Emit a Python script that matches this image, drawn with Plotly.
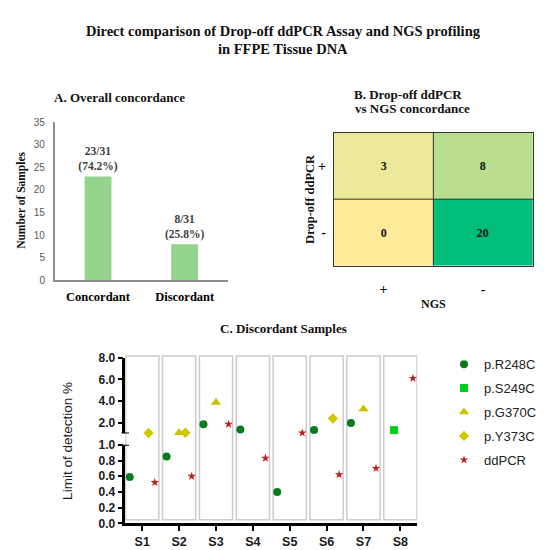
import plotly.graph_objects as go

# ---------------- data ----------------
# A. Overall concordance
concord_cats = ["Concordant", "Discordant"]
concord_counts = [23, 8]
total_samples = 31

# B. Drop-off ddPCR vs NGS concordance (rows: ddPCR result, cols: NGS result)
ngs_labels = ["+", "-"]
ddpcr_labels = ["-", "+"]          # bottom to top
ddpcr_neg_row = [0, 20]            # ddPCR -, NGS + / NGS -
ddpcr_pos_row = [3, 8]             # ddPCR +, NGS + / NGS -

# C. Discordant samples (limit of detection %)
samples = ["S1", "S2", "S3", "S4", "S5", "S6", "S7", "S8"]
r248c = [0.59, 0.85, 1.85, 1.37, 0.40, 1.31, 1.97, None]
s249c = [None, None, None, None, None, None, None, 1.31]
g370c = [None, 1.06, 3.86, None, None, None, 3.26, None]
y373c = [1.05, 1.07, None, None, None, 2.39, None, None]
ddpcr = [0.52, 0.60, 1.85, 0.83, 1.05, 0.62, 0.70, 6.10]
axis_break = 1.0

# ---------------- helpers ----------------
W = H = 550
def px(x):
    return x / W
def py(y):
    return 1 - y / H

SERIF = "Liberation Serif"
SANS = "Liberation Sans"

fig = go.Figure()

# ---------- A: bar chart ----------
bar_text = [f"{c}/{total_samples}<br>({c / total_samples * 100:.1f}%)" for c in concord_counts]
fig.add_trace(go.Bar(
    x=concord_cats, y=concord_counts, xaxis="x", yaxis="y",
    marker=dict(color="#93d38b", line=dict(width=0)),
    text=bar_text, textposition="outside", cliponaxis=False, constraintext="none",
    textfont=dict(family=SERIF, size=11.5, color="#404040", weight="bold"),
    showlegend=False, width=0.31,
))

# ---------- B: heatmap ----------
fig.add_trace(go.Heatmap(
    z=[ddpcr_neg_row, ddpcr_pos_row], x=ngs_labels, y=ddpcr_labels,
    xaxis="x2", yaxis="y2",
    colorscale=[[0.0, "#feec9b"], [0.15, "#ece99a"], [0.4, "#b9de8d"], [1.0, "#00bd77"]],
    zmin=0, zmax=20, showscale=False,
    texttemplate="<b>%{z}</b>",
    textfont=dict(family=SERIF, size=12, color="#111111"),
))

# ---------- C: broken-axis scatter ----------
series = [
    ("p.R248C", r248c, "circle", "#0a7a1e", 8),
    ("p.S249C", s249c, "square", "#00cc1a", 8),
    ("p.G370C", g370c, "triangle-up", "#c9c400", 9),
    ("p.Y373C", y373c, "diamond", "#d4c700", 8),
    ("ddPCR", ddpcr, "star", "#b5231f", 6.5),
]
for part, yax in (("low", "y3"), ("high", "y4")):
    for name, vals, sym, col, size in series:
        if part == "low":
            yv = [v if (v is not None and v <= axis_break) else None for v in vals]
        else:
            yv = [v if (v is not None and v > axis_break) else None for v in vals]
        fig.add_trace(go.Scatter(
            x=samples, y=yv, xaxis="x3", yaxis=yax, mode="markers", name=name,
            marker=dict(symbol=sym, color=col, size=size, line=dict(width=0)),
            offsetgroup=name, alignmentgroup="c", legendgroup=name,
            showlegend=(part == "high"), cliponaxis=False,
        ))

# ---------- layout ----------
grey_axis = dict(showline=True, linecolor="#8c8c8c", linewidth=1.5, showgrid=False,
                 zeroline=False, ticks="")
blk = dict(showline=True, linecolor="black", linewidth=2.5, showgrid=False, zeroline=False,
           ticks="outside", ticklen=5, tickwidth=2, tickcolor="black")

fig.update_layout(
    width=W, height=H, margin=dict(l=0, r=0, t=0, b=0),
    paper_bgcolor="white", plot_bgcolor="white",
    scattermode="group", scattergap=0.15,
    xaxis=dict(domain=[px(46.7), px(220)], anchor="y", **grey_axis,
               tickfont=dict(family=SERIF, size=12.5, color="black", weight="bold"),
               ticklabelstandoff=4),
    yaxis=dict(domain=[py(272.3), py(110)], anchor="x", range=[0, 35], dtick=5, **grey_axis,
               tickfont=dict(family=SANS, size=10, color="#595959"), ticklabelstandoff=6),
    xaxis2=dict(domain=[px(325.7), px(525)], anchor="y2", showline=True, mirror=True,
                linecolor="#333333", linewidth=1, showgrid=False, zeroline=False, ticks="",
                tickfont=dict(family=SERIF, size=14, color="black", weight="bold"),
                ticklabelstandoff=10),
    yaxis2=dict(domain=[py(257.3), py(120.7)], anchor="x2", showline=True, mirror=True,
                linecolor="#333333", linewidth=1, showgrid=False, zeroline=False, ticks="",
                tickfont=dict(family=SERIF, size=14, color="black", weight="bold"),
                ticklabelstandoff=4),
    xaxis3=dict(domain=[px(117.3), px(409.3)], anchor="y3", range=[-0.46, 7.46], **blk,
                tickfont=dict(family=SANS, size=12.5, color="#1a1a1a", weight="bold")),
    yaxis3=dict(domain=[py(521.7), py(441)], anchor="x3", range=[0, 1.0], tickvals=[0, 0.2, 0.4, 0.6, 0.8, 1.0],
                tickformat=".1f", **blk,
                tickfont=dict(family=SANS, size=12, color="#1a1a1a", weight="bold")),
    yaxis4=dict(domain=[py(429.4), py(351.7)], anchor="x3", range=[1.0, 8.0], tickvals=[2, 4, 6, 8],
                tickformat=".1f", **blk,
                tickfont=dict(family=SANS, size=12, color="#1a1a1a", weight="bold")),
    legend=dict(x=px(436), y=py(343), xanchor="left", yanchor="top",
                font=dict(family=SANS, size=13, color="#222222"), tracegroupgap=4,
                bgcolor="rgba(0,0,0,0)"),
)

# panel frames behind the discordant-sample points
shapes = []
for i in range(len(samples)):
    shapes.append(dict(type="rect", xref="x3", yref="paper", x0=i - 0.45, x1=i + 0.45,
                       y0=py(518), y1=py(350), line=dict(color="#cccccc", width=1.5),
                       fillcolor="rgba(0,0,0,0)", layer="below"))
# axis-break caps
for yr in ("y3", "y4"):
    shapes.append(dict(type="line", xref="paper", yref=yr, x0=px(113.5), x1=px(121),
                       y0=axis_break, y1=axis_break, line=dict(color="black", width=2)))
# heatmap inner grid
shapes.append(dict(type="line", xref="x2", yref="y2 domain", x0=0.5, x1=0.5, y0=0, y1=1,
                   line=dict(color="#333333", width=1)))
shapes.append(dict(type="line", xref="x2 domain", yref="y2", x0=0, x1=1, y0=0.5, y1=0.5,
                   line=dict(color="#333333", width=1)))
fig.update_layout(shapes=shapes)

def ann(text, x, y, size, family=SERIF, bold=True, angle=0, color="#111111"):
    fig.add_annotation(text=text, x=px(x), y=py(y), xref="paper", yref="paper",
                       showarrow=False, textangle=angle, xanchor="center", yanchor="middle",
                       font=dict(family=family, size=size, color=color,
                                 weight="bold" if bold else "normal"))

ann("Direct comparison of Drop-off ddPCR Assay and NGS profiling", 275, 16, 14.5)
ann("in FFPE Tissue DNA", 275, 35, 14.5)
ann("A. Overall concordance", 111, 85, 13)
ann("B. Drop-off ddPCR", 400, 82, 13)
ann("vs NGS concordance", 404, 96, 13)
ann("C. Discordant Samples", 275, 322, 13)
ann("Number of Samples", 12.7, 190, 11.5, angle=-90)
ann("Drop-off ddPCR", 301.7, 189, 12.5, angle=-90)
ann("NGS", 425, 296.7, 12)
ann("Limit of detection %", 60, 437, 13.5, family=SANS, bold=False, angle=-90, color="#1a1a1a")

fig.write_html("out.html")
